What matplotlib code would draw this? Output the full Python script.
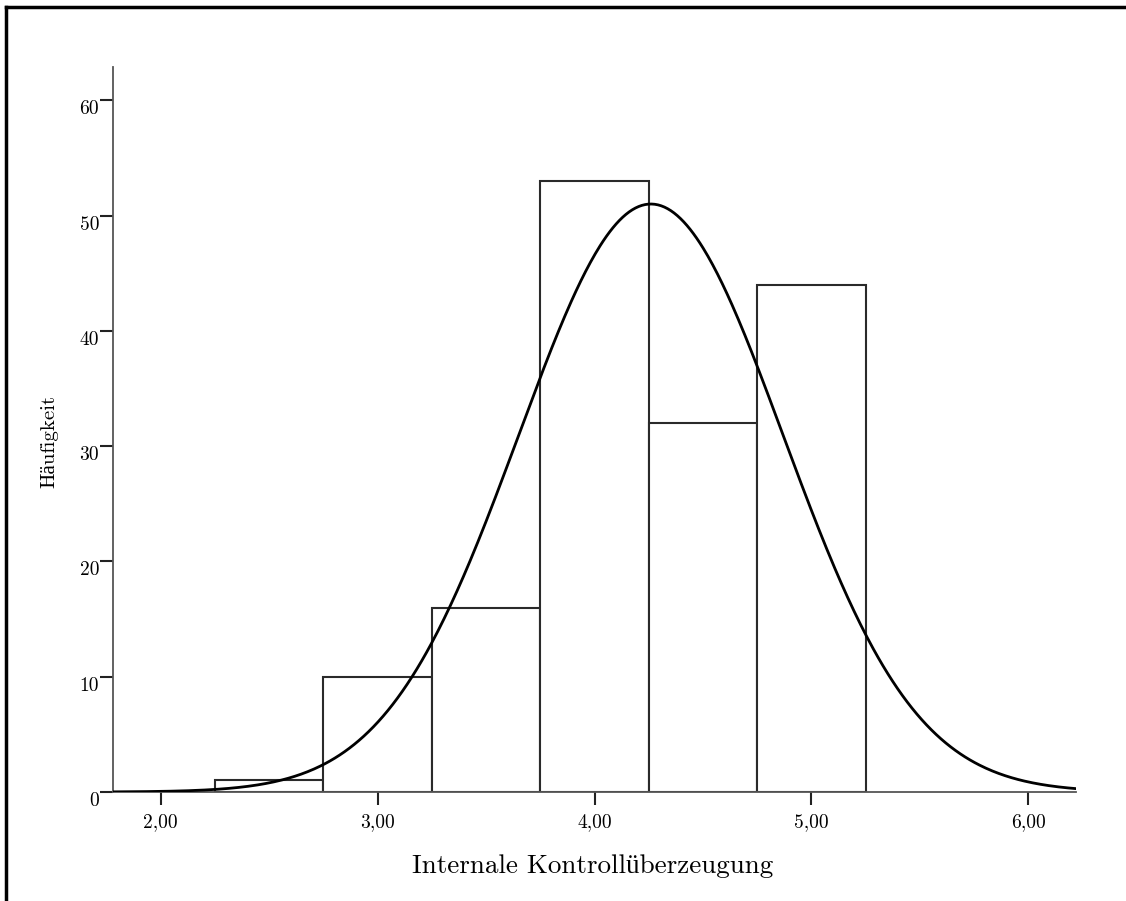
import numpy as np
import matplotlib
matplotlib.use("Agg")
import matplotlib.pyplot as plt
from matplotlib.lines import Line2D
from matplotlib.transforms import ScaledTranslation

# Data
bin_edges = [2.25, 2.75, 3.25, 3.75, 4.25, 4.75, 5.25]
counts = [1, 10, 16, 53, 32, 44]
curve_mean = 4.26
curve_sd = 0.61
n_total = sum(counts)
x_ticks = [2.0, 3.0, 4.0, 5.0, 6.0]
x_ticklabels = ["2,00", "3,00", "4,00", "5,00", "6,00"]
y_ticks = [0, 10, 20, 30, 40, 50, 60]
y_ticklabels = ["0", "10", "20", "30", "40", "50", "60"]
x_label = "Internale Kontrollüberzeugung"
y_label = "Häufigkeit"

W, H = 1126, 901
fig = plt.figure(figsize=(W / 100, H / 100), dpi=100)
fam = ["cmr10", "Liberation Serif"]

ax = fig.add_axes([113 / W, 1 - 792 / H, (1076 - 113) / W, (792 - 67) / H])

widths = np.diff(bin_edges)
ax.bar(bin_edges[:-1], counts, width=widths, align="edge",
       facecolor="white", edgecolor="#2a2a2a", linewidth=1.5, zorder=2)

xs = np.linspace(1.78, 6.22, 600)
bw = widths[0]
ys = n_total * bw / (curve_sd * np.sqrt(2 * np.pi)) * np.exp(-0.5 * ((xs - curve_mean) / curve_sd) ** 2)
ax.plot(xs, ys, color="black", linewidth=2.0, zorder=3)

ax.set_xlim(1.78, 6.22)
ax.set_ylim(0, 62.9)
for s in ["top", "right"]:
    ax.spines[s].set_visible(False)
for s in ["left", "bottom"]:
    ax.spines[s].set_color("#555555")
    ax.spines[s].set_linewidth(1.3)

ax.set_xticks(x_ticks)
ax.set_xticklabels(x_ticklabels, family=fam, fontsize=14)
ax.set_yticks(y_ticks)
ax.set_yticklabels(y_ticklabels, family=fam, fontsize=14)
ax.tick_params(axis="both", length=9.5, width=1.5, color="#222222")
ax.tick_params(axis="y", pad=0.5)
ax.tick_params(axis="x", pad=6)
off = ScaledTranslation(0, -7 / 100, fig.dpi_scale_trans)
for lbl in ax.get_yticklabels():
    lbl.set_transform(lbl.get_transform() + off)

fig.text(593 / W, 1 - 866 / H, x_label, ha="center", va="center", family=fam, fontsize=19.5)
fig.text(49 / W, 1 - 441 / H, y_label, ha="center", va="center", rotation=90, family=fam, fontsize=15)

# frame lines (top and left)
fig.add_artist(Line2D([6 / W, 6 / W], [0, 1 - 7 / H], transform=fig.transFigure, color="black", linewidth=2.5))
fig.add_artist(Line2D([6 / W, 1], [1 - 7 / H, 1 - 7 / H], transform=fig.transFigure, color="black", linewidth=2.5))

fig.savefig("out.png", dpi=100, facecolor="white")
